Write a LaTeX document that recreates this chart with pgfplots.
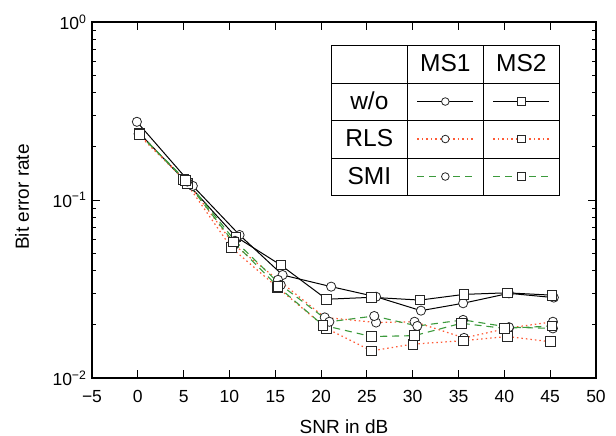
\documentclass[border=0pt]{standalone}
\usepackage{fontspec}
\setmainfont{Liberation Sans}
\usepackage{pgfplots}
\pgfplotsset{compat=1.18}
\definecolor{rlsred}{HTML}{FF5A36}
\definecolor{smigreen}{HTML}{3C9A3C}
\newcommand\tickfont{\fontsize{17.5}{20}\selectfont}
\newcommand\labfont{\fontsize{19}{22}\selectfont}
\newcommand\legfont{\fontsize{24.5}{28}\selectfont}

\tikzset{
  wo/.style={black, line width=1pt},
  rls/.style={rlsred, line width=1.2pt, dash pattern=on 1.5pt off 3pt},
  smi/.style={smigreen, line width=1.1pt, dash pattern=on 7pt off 5pt},
  ms1/.style={mark=*, mark size=4.6pt, mark options={solid, fill=white, draw=black!85, line width=0.8pt}},
  ms2/.style={mark=square*, mark size=4.8pt, mark options={solid, fill=white, draw=black!85, line width=0.8pt}},
  grid line/.style={black, solid, line width=1pt},
  sample/.style={mark indices={2}, mark size=3.8pt},
}

\begin{document}
\begin{tikzpicture}
\begin{axis}[
  name=ax, at={(0,0)}, anchor=south west,
  scale only axis, width=504pt, height=356pt,
  xmin=-5, xmax=50, ymode=log, ymin=0.01, ymax=1,
  xtick={-5,0,...,50},
  xticklabels={−5,0,5,10,15,20,25,30,35,40,45,50},
  ytick={0.01,0.1,1},
  yticklabels={10\textsuperscript{−2},10\textsuperscript{−1},10\textsuperscript{0}},
  tick label style={font=\tickfont},
  xticklabel style={yshift=-9pt},
  yticklabel style={xshift=-2pt},
  axis line style={line width=1.2pt},
  tick style={black, line width=1pt},
  major tick length=8pt, minor tick length=4pt,
  xlabel={SNR in dB}, ylabel={Bit error rate},
  label style={font=\labfont},
  xlabel style={at={(axis description cs:0.5,0)}, anchor=base, inner sep=0pt, yshift=-55pt},
  ylabel style={at={(axis description cs:0,0.5)}, anchor=center, inner sep=0pt, yshift=70pt, xshift=3pt},
  legend style={at={(0.9306,0.938)}, anchor=north east, draw=none, fill=white,
    inner sep=0pt, row sep=0pt, column sep=0pt, nodes={inner sep=0pt}},
]
% w/o
\addplot[wo, ms1, forget plot] coordinates {
  (-0.1,0.275) (6.0,0.120) (11.1,0.0636) (15.8,0.0379) (21.1,0.0326)
  (26.0,0.0286) (30.9,0.0239) (35.5,0.0263) (40.5,0.0299) (45.4,0.0283)};
\addplot[wo, ms2, forget plot] coordinates {
  (0.2,0.237) (5.4,0.124) (10.7,0.0622) (15.6,0.0431) (20.6,0.0277)
  (25.5,0.0284) (30.8,0.0274) (35.6,0.0295) (40.3,0.0301) (45.2,0.0292)};
% RLS
\addplot[rls, ms1, forget plot] coordinates {
  (0.1,0.235) (5.3,0.128) (10.5,0.056) (15.3,0.0356) (20.4,0.0219)
  (26.0,0.0205) (30.2,0.0207) (35.6,0.0168) (40.5,0.0191) (45.3,0.0207)};
\addplot[rls, ms2, forget plot] coordinates {
  (0.1,0.232) (5.0,0.131) (10.2,0.054) (15.2,0.0324) (20.6,0.0190)
  (25.5,0.0142) (30.0,0.0155) (35.5,0.0162) (40.3,0.0171) (45.0,0.0160)};
% SMI
\addplot[smi, ms1, forget plot] coordinates {
  (0.1,0.236) (5.4,0.127) (10.6,0.059) (15.6,0.0333) (20.9,0.0207)
  (25.8,0.0223) (30.5,0.0196) (35.5,0.0212) (40.5,0.0193) (45.3,0.0190)};
\addplot[smi, ms2, forget plot] coordinates {
  (0.2,0.234) (5.2,0.129) (10.4,0.0583) (15.3,0.0326) (20.2,0.0198)
  (25.5,0.0171) (30.2,0.0173) (35.3,0.0203) (40.0,0.0190) (45.2,0.0196)};

% legend drawn as one table-shaped legend image
\addlegendimage{legend image code/.code={%
  \draw[grid line] (0pt,0pt) rectangle (228pt,-150pt);
  \draw[grid line] (76pt,0pt) -- (76pt,-150pt) (152pt,0pt) -- (152pt,-150pt)
    (0pt,-38pt) -- (228pt,-38pt) (0pt,-75pt) -- (228pt,-75pt) (0pt,-113pt) -- (228pt,-113pt);
  \node[font=\legfont] at (114pt,-19pt) {MS1};
  \node[font=\legfont] at (190pt,-19pt) {MS2};
  \node[font=\legfont] at (38pt,-56.5pt) {w/o};
  \node[font=\legfont] at (38pt,-94pt) {RLS};
  \node[font=\legfont] at (38pt,-131.5pt) {SMI};
  \draw[wo, ms1, sample] plot coordinates {(86pt,-56.5pt) (114pt,-56.5pt) (142pt,-56.5pt)};
  \draw[wo, ms2, sample] plot coordinates {(162pt,-56.5pt) (190pt,-56.5pt) (218pt,-56.5pt)};
  \draw[rls, ms1, sample] plot coordinates {(86pt,-94pt) (114pt,-94pt) (142pt,-94pt)};
  \draw[rls, ms2, sample] plot coordinates {(162pt,-94pt) (190pt,-94pt) (218pt,-94pt)};
  \draw[smi, ms1, sample] plot coordinates {(86pt,-131.5pt) (114pt,-131.5pt) (142pt,-131.5pt)};
  \draw[smi, ms2, sample] plot coordinates {(162pt,-131.5pt) (190pt,-131.5pt) (218pt,-131.5pt)};
}}
\addlegendentry{\mbox{}}
\end{axis}
\pgfresetboundingbox
\path[use as bounding box] (-92pt,-58pt) rectangle (524pt,378pt);
\end{tikzpicture}
\end{document}
